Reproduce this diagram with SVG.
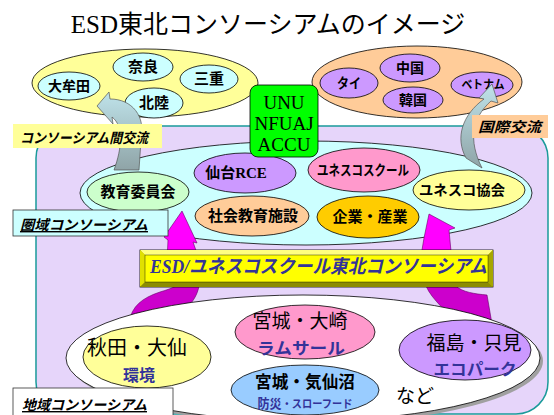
<svg xmlns="http://www.w3.org/2000/svg" width="554" height="415" viewBox="0 0 554 415">
<defs>
<linearGradient id="gray" x1="0" y1="0" x2="0" y2="1">
<stop offset="0" stop-color="#BFE3EA"/>
<stop offset="1" stop-color="#8FA4A7"/>
</linearGradient>
<style>
.e{stroke:#000;stroke-width:0.8}
.j{font-family:"Noto Sans CJK JP","Liberation Sans",sans-serif;text-anchor:middle}
.b{font-weight:bold}
.lbl{font-family:"Noto Sans CJK JP","Liberation Sans",sans-serif;font-weight:bold;font-style:italic;font-size:14px}
.blue{fill:#333399}
.ser{font-family:"Liberation Serif","Noto Sans CJK JP",serif}
</style>
</defs>
<rect width="554" height="415" fill="#FFFFFF"/>
<text x="268" y="33" class="ser" font-size="25" text-anchor="middle">ESD<tspan font-family="Noto Sans CJK JP,sans-serif">東北コンソーシアムのイメージ</tspan></text>

<rect id="frame" x="36" y="126" width="512" height="288" rx="32" fill="#E6D5FA" stroke="#1A9A9A" stroke-width="1.5"/>

<g id="domestic">
<ellipse cx="145" cy="83" rx="113" ry="34" fill="#FFFF99" class="e"/>
<g id="omuta"><ellipse cx="69" cy="86" rx="31" ry="14" fill="#CCFFFF" class="e"/><text x="69" y="91" class="j b" font-size="14">大牟田</text></g>
<g id="nara"><ellipse cx="143" cy="67" rx="30" ry="14" fill="#CCFFFF" class="e"/><text x="143" y="72" class="j b" font-size="15">奈良</text></g>
<g id="mie"><ellipse cx="209" cy="79" rx="29" ry="14" fill="#CCFFFF" class="e"/><text x="209" y="84" class="j b" font-size="15">三重</text></g>
<g id="hokuriku"><ellipse cx="154" cy="103" rx="29" ry="15" fill="#CCFFFF" class="e"/><text x="154" y="108" class="j b" font-size="15">北陸</text></g>
</g>

<g id="international">
<ellipse cx="417" cy="82" rx="105" ry="36" fill="#FFCC99" class="e"/>
<g id="china"><ellipse cx="410" cy="68" rx="30" ry="14" fill="#CC99FF" class="e"/><text x="410" y="73" class="j b" font-size="14">中国</text></g>
<g id="thai"><ellipse cx="349" cy="83" rx="29" ry="15" fill="#CC99FF" class="e"/><text x="349" y="88" class="j b" font-size="14" textLength="24" lengthAdjust="spacingAndGlyphs">タイ</text></g>
<g id="korea"><ellipse cx="413" cy="100" rx="30" ry="13" fill="#CC99FF" class="e"/><text x="413" y="105" class="j b" font-size="14">韓国</text></g>
<g id="vietnam"><ellipse cx="482" cy="85" rx="31" ry="13" fill="#CC99FF" class="e"/><text x="483" y="89" class="j b" font-size="12" textLength="43" lengthAdjust="spacingAndGlyphs">ベトナム</text></g>
</g>

<g id="regional">
<ellipse cx="306" cy="193" rx="226" ry="52" fill="#CCFFFF" class="e"/>
<g id="kyoiku"><ellipse cx="138" cy="192" rx="51" ry="20" fill="#CCFFCC" class="e"/><text x="138" y="197" class="j b" font-size="15">教育委員会</text></g>
<g id="rce"><ellipse cx="245" cy="173" rx="51" ry="20" fill="#CC99FF" class="e"/><text x="236" y="178" class="j b" font-size="15">仙台<tspan font-family="Liberation Serif,serif">RCE</tspan></text></g>
<g id="unesco-school"><ellipse cx="364" cy="170" rx="56" ry="22" fill="#FF99CC" class="e"/><text x="363" y="175" class="j b" font-size="14" textLength="92" lengthAdjust="spacingAndGlyphs">ユネスコスクール</text></g>
<g id="unesco-assoc"><ellipse cx="469" cy="190" rx="56" ry="20" fill="#FFFF99" class="e"/><text x="462" y="195" class="j b" font-size="14" textLength="86" lengthAdjust="spacingAndGlyphs">ユネスコ協会</text></g>
<g id="shakai"><ellipse cx="252" cy="216" rx="57" ry="20" fill="#FFCC99" class="e"/><text x="253" y="221" class="j b" font-size="15">社会教育施設</text></g>
<g id="kigyo"><ellipse cx="368" cy="217" rx="51" ry="21" fill="#FFCC00" class="e"/><text x="370" y="222" class="j b" font-size="15">企業・産業</text></g>
</g>

<g id="unu">
<rect x="250" y="85" width="68" height="72" rx="8" fill="#00FF00" stroke="#000" stroke-width="0.8"/>
<text x="284" y="109" class="ser" font-size="19" text-anchor="middle">UNU</text>
<text x="284" y="130" class="ser" font-size="19" text-anchor="middle">NFUAJ</text>
<text x="284" y="151" class="ser" font-size="19" text-anchor="middle">ACCU</text>
</g>

<g id="connectors">
<path d="M97,106 L109,92 L110,99 C132,99 146,116 141,140 L139,170 L114,170 C122,148 124,126 112,117 L113,124 Z" fill="url(#gray)" stroke="#555" stroke-width="0.7"/>
<path d="M492,84 L498,103 L491,101 C472,118 468,140 482,168 L466,158 C455,138 462,115 484,99 L479,98 Z" fill="url(#gray)" stroke="#555" stroke-width="0.7"/>
<path d="M182,211 L197,243 L193,242 L200,262 L167,262 L168,240 L164,237 Z" fill="#FF00FF" stroke="#660066" stroke-width="0.6"/>
<path d="M429,214 L455,228 L449,230 L452,262 L420,262 L424,238 Z" fill="#FF00FF" stroke="#660066" stroke-width="0.6"/>
<path d="M176,286 L199,286 C196,303 181,316 158,326 L129,322 C132,306 142,298 160,292 C167,290 172,288 176,286 Z" fill="#CC00CC" stroke="#660066" stroke-width="0.6"/>
<path d="M426,286 L456,286 C462,292 475,294 487,295 L492,324 L458,325 C448,312 432,300 426,286 Z" fill="#CC00CC" stroke="#660066" stroke-width="0.6"/>
</g>

<g id="label-inter">
<rect x="13" y="124" width="149" height="24" fill="#FFFF99"/>
<text x="20" y="143" class="lbl" textLength="128" lengthAdjust="spacingAndGlyphs">コンソーシアム間交流</text>
</g>
<g id="label-intl">
<rect x="472" y="115" width="76" height="23" fill="#FFCC99"/>
<text x="478" y="132" class="lbl" font-size="15" textLength="63" lengthAdjust="spacingAndGlyphs">国際交流</text>
</g>

<g id="local">
<ellipse cx="306" cy="361" rx="237" ry="63" fill="#A0A0A0"/>
<ellipse cx="303" cy="358" rx="237" ry="63" fill="#FFFFFF" class="e"/>
<g id="akita"><ellipse cx="147" cy="357" rx="64" ry="31" fill="#FFFF99" class="e"/>
<text x="137" y="355" class="j" font-size="20">秋田・大仙</text>
<text x="139" y="381" class="j b blue" font-size="16">環境</text></g>
<g id="osaki"><ellipse cx="305" cy="332" rx="70" ry="27" fill="#FF99CC" class="e"/>
<text x="300" y="328" class="j" font-size="19">宮城・大崎</text>
<text x="301" y="354" class="j b blue" font-size="16" textLength="88" lengthAdjust="spacingAndGlyphs">ラムサール</text></g>
<g id="kesennuma"><ellipse cx="305" cy="390" rx="74" ry="25" fill="#99CCFF" class="e"/>
<text x="305" y="388" class="j b" font-size="17" textLength="100" lengthAdjust="spacingAndGlyphs">宮城・気仙沼</text>
<text x="305" y="408" class="j b blue" font-size="13" textLength="95" lengthAdjust="spacingAndGlyphs">防災<tspan font-size="11">・スローフード</tspan></text></g>
<g id="fukushima"><ellipse cx="465" cy="350" rx="66" ry="30" fill="#CC99FF" class="e"/>
<text x="474" y="350" class="j" font-size="19">福島・只見</text>
<text x="475" y="375" class="j b blue" font-size="16" textLength="83" lengthAdjust="spacingAndGlyphs">エコパーク</text></g>
<text x="415" y="403" class="j" font-size="19">など</text>
</g>

<g id="banner">
<rect x="140" y="250" width="353" height="37" fill="#B3B300" stroke="#000" stroke-width="0.8"/>
<polygon points="140,250 493,250 488,255 145,255" fill="#FFFF80"/>
<polygon points="140,250 145,255 145,282 140,287" fill="#E0E000"/>
<polygon points="140,287 145,282 488,282 493,287" fill="#8C8C00"/>
<polygon points="493,250 493,287 488,282 488,255" fill="#A6A600"/>
<rect x="145" y="255" width="343" height="27" fill="#FFFF00" stroke="#000" stroke-width="0.4"/>
<text x="150" y="273" class="ser" font-size="19" font-weight="bold" font-style="italic" fill="#333399" textLength="337" lengthAdjust="spacingAndGlyphs">ESD/<tspan font-family="Noto Sans CJK JP,sans-serif">ユネスコスクール東北コンソーシアム</tspan></text>
</g>

<g id="label-regional">
<rect x="13" y="210" width="155" height="26" fill="#CCFFFF" stroke="#333" stroke-width="0.8"/>
<text x="20" y="230" class="lbl" text-decoration="underline" textLength="128" lengthAdjust="spacingAndGlyphs">圏域コンソーシアム</text>
</g>
<g id="label-local">
<rect x="13" y="388" width="160" height="28" fill="#FFFFFF" stroke="#333" stroke-width="0.8"/>
<text x="22" y="410" class="lbl" text-decoration="underline" textLength="125" lengthAdjust="spacingAndGlyphs">地域コンソーシアム</text>
</g>
</svg>
